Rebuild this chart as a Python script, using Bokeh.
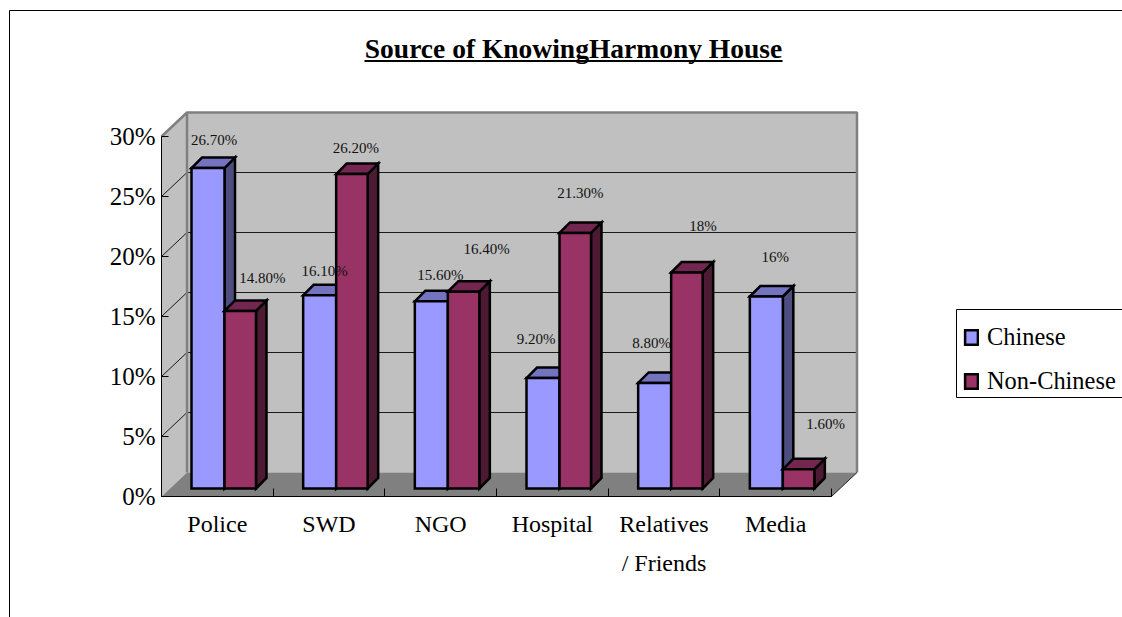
from bokeh.plotting import figure
from bokeh.embed import file_html
from bokeh.resources import INLINE
from bokeh.core.properties import value
from bokeh.models import FixedTicker, PrintfTickFormatter, Label, Legend, LegendItem, Range1d

# ---- data ----
categories = ["Police", "SWD", "NGO", "Hospital", "Relatives\n/ Friends", "Media"]
chinese = [26.7, 16.1, 15.6, 9.2, 8.8, 16.0]
non_chinese = [14.8, 26.2, 16.4, 21.3, 18.0, 1.6]
chinese_text = ["26.70%", "16.10%", "15.60%", "9.20%", "8.80%", "16%"]
non_chinese_text = ["14.80%", "26.20%", "16.40%", "21.30%", "18%", "1.60%"]
y_ticks = [0, 5, 10, 15, 20, 25, 30]
series_names = ["Chinese", "Non-Chinese"]
title_text = "Source of KnowingHarmony House"

# ---- layout (page pixels) ----
W, H = 1122, 617
PAGE = 0
X0, X6 = 161.0, 831.0     # front axis ends
Y0 = 496.0                # front 0%
PX_PER_PCT = 12.0
PX_PER_CAT = (X6 - X0) / 6
WALL_DX, WALL_DY = 25.5, 24.0
BAR_OFF = 8.0             # bar front offset above the front axis
BAR_DEPTH = 10.5
BAR_L, BAR_M, BAR_R = 30.0, 63.0, 94.5   # px from category start

def dx(px):  # page px -> x data
    return (px - X0) / PX_PER_CAT
def dy(py):  # page py -> y data
    return (Y0 - py) / PX_PER_PCT
wx = WALL_DX / PX_PER_CAT
wy = WALL_DY / PX_PER_PCT
oy = BAR_OFF / PX_PER_PCT
bdx = BAR_DEPTH / PX_PER_CAT
bdy = BAR_DEPTH / PX_PER_PCT

p = figure(width=W, height=H, output_backend="svg", toolbar_location=None,
           x_range=Range1d(dx(PAGE), dx(PAGE + W)), y_range=Range1d(dy(PAGE + H), dy(PAGE)),
           min_border=0, outline_line_color=None, background_fill_color="white",
           border_fill_color="white")
p.grid.visible = False

SERIF = "Liberation Serif"
GRAY = "#808080"
WALL = "#C0C0C0"

# walls and floor
top = y_ticks[-1]
p.patch([0, wx, wx, 0], [0, wy, top + wy, top], fill_color=WALL, line_color=None)
p.patch([wx, 6 + wx, 6 + wx, wx], [wy, wy, top + wy, top + wy], fill_color=WALL, line_color=None)
p.patch([0, wx, 6 + wx, 6], [0, wy, wy, 0], fill_color=GRAY, line_color=None)

# gridlines on back wall and side wall
inner = y_ticks[1:-1]
p.segment([wx] * len(inner), [v + wy for v in inner], [6 + wx] * len(inner), [v + wy for v in inner],
          line_color="#1a1a1a", line_width=1)
p.segment([0] * len(inner), inner, [wx] * len(inner), [v + wy for v in inner],
          line_color="#1a1a1a", line_width=1)

# wall borders
p.line([0, wx, 6 + wx, 6 + wx], [top, top + wy, top + wy, wy], line_color=GRAY, line_width=2.5)
p.line([wx, wx], [top + wy, wy], line_color=GRAY, line_width=2.5)
p.line([6 + wx, 6], [wy, 0], line_color="#222222", line_width=1)

def draw_series(vals, left_px, right_px, front, side, topc):
    xl = [i + left_px / PX_PER_CAT for i in range(6)]
    xr = [i + right_px / PX_PER_CAT for i in range(6)]
    sx, sy, tx, ty = [], [], [], []
    for l, r, v in zip(xl, xr, vals):
        yb = oy
        yt = yb + v
        sx.append([r, r + bdx, r + bdx, r])
        sy.append([yb, yb + bdy, yt + bdy, yt])
        tx.append([l, l + bdx, r + bdx, r])
        ty.append([yt, yt + bdy, yt + bdy, yt])
    kw = dict(line_color="black", line_width=2.5, line_join="miter")
    p.patches(sx, sy, fill_color=side, **kw)
    p.patches(tx, ty, fill_color=topc, **kw)
    return p.quad(left=xl, right=xr, bottom=[oy] * 6, top=[oy + v for v in vals],
                  fill_color=front, **kw)

r1 = draw_series(chinese, BAR_L, BAR_M, "#9999FF", "#4D4D80", "#7373BF")
r2 = draw_series(non_chinese, BAR_M, BAR_R, "#993366", "#4D1A33", "#732650")

# value labels; offsets in px from top of each bar's front
lab_dx_c = [6, 5, 9, -7, -3, 9]
lab_dy_c = [-28, -24, -26, -39, -40, -40]
lab_dx_n = [22, 4, 23, 5, 16, 27]
lab_dy_n = [-33, -26, -43, -40, -47, -45]
lx, ly, lt = [], [], []
for i in range(6):
    lx.append(i + ((BAR_L + BAR_M) / 2 + lab_dx_c[i]) / PX_PER_CAT)
    ly.append(oy + chinese[i] - lab_dy_c[i] / PX_PER_PCT)
    lt.append(chinese_text[i])
    lx.append(i + ((BAR_M + BAR_R) / 2 + lab_dx_n[i]) / PX_PER_CAT)
    ly.append(oy + non_chinese[i] - lab_dy_n[i] / PX_PER_PCT)
    lt.append(non_chinese_text[i])
p.text(x=lx, y=ly, text=lt, text_font=value(SERIF), text_font_size="15px", text_color="#111111",
       text_align="center", text_baseline="middle")

# axes
ya = p.yaxis[0]
ya.fixed_location = 0
ya.bounds = (0, 30)
ya.ticker = FixedTicker(ticks=y_ticks)
ya.formatter = PrintfTickFormatter(format="%d%%")
ya.major_tick_in = 7
ya.major_tick_out = 0
ya.minor_tick_in = 0
ya.minor_tick_out = 0
ya.major_label_standoff = 6
ya.axis_line_color = "black"
ya.major_tick_line_color = "black"
ya.major_label_text_font = SERIF
ya.major_label_text_font_size = "25px"
ya.major_label_text_color = "black"

xa = p.xaxis[0]
xa.fixed_location = 0
xa.bounds = (0, 6)
centers = [i + 0.5 for i in range(6)]
xa.ticker = FixedTicker(ticks=centers, minor_ticks=list(range(7)))
xa.major_label_overrides = {c: t for c, t in zip(centers, categories)}
xa.major_tick_in = 0
xa.major_tick_out = 0
xa.minor_tick_in = 8
xa.minor_tick_out = 0
xa.minor_tick_line_color = "black"
xa.major_label_standoff = 14
xa.axis_line_color = "black"
xa.major_label_text_font = SERIF
xa.major_label_text_font_size = "24px"
xa.major_label_text_color = "black"
xa.major_label_text_line_height = 1.5

# page frame
p.line([dx(9), dx(9), dx(PAGE + W)], [dy(PAGE + H), dy(10), dy(10)], line_color="black", line_width=1)

# title
p.add_layout(Label(x=dx(573), y=dy(48), text=title_text, text_font=SERIF, text_font_size="27.5px",
                   text_font_style="bold", text_color="black", text_align="center", text_baseline="middle"))
p.line([dx(364), dx(782)], [dy(60.5), dy(60.5)], line_color="black", line_width=2)

# legend box + legend
p.quad(left=[dx(956)], right=[dx(PAGE + W + 4)], top=[dy(309)], bottom=[dy(397)],
       fill_color="white", line_color="black", line_width=1)
leg = Legend(items=[LegendItem(label=series_names[0], renderers=[r1]),
                    LegendItem(label=series_names[1], renderers=[r2])],
             location=(963, H - 397 + 1), orientation="vertical",
             background_fill_alpha=0, border_line_color=None,
             padding=9, margin=0, spacing=14, glyph_width=16, glyph_height=18, label_height=30,
             label_standoff=8, label_text_font=SERIF, label_text_font_size="24.4px",
             label_text_color="black", label_text_baseline="middle")
p.add_layout(leg, "center")

open("out.html", "w").write(file_html(p, INLINE))
